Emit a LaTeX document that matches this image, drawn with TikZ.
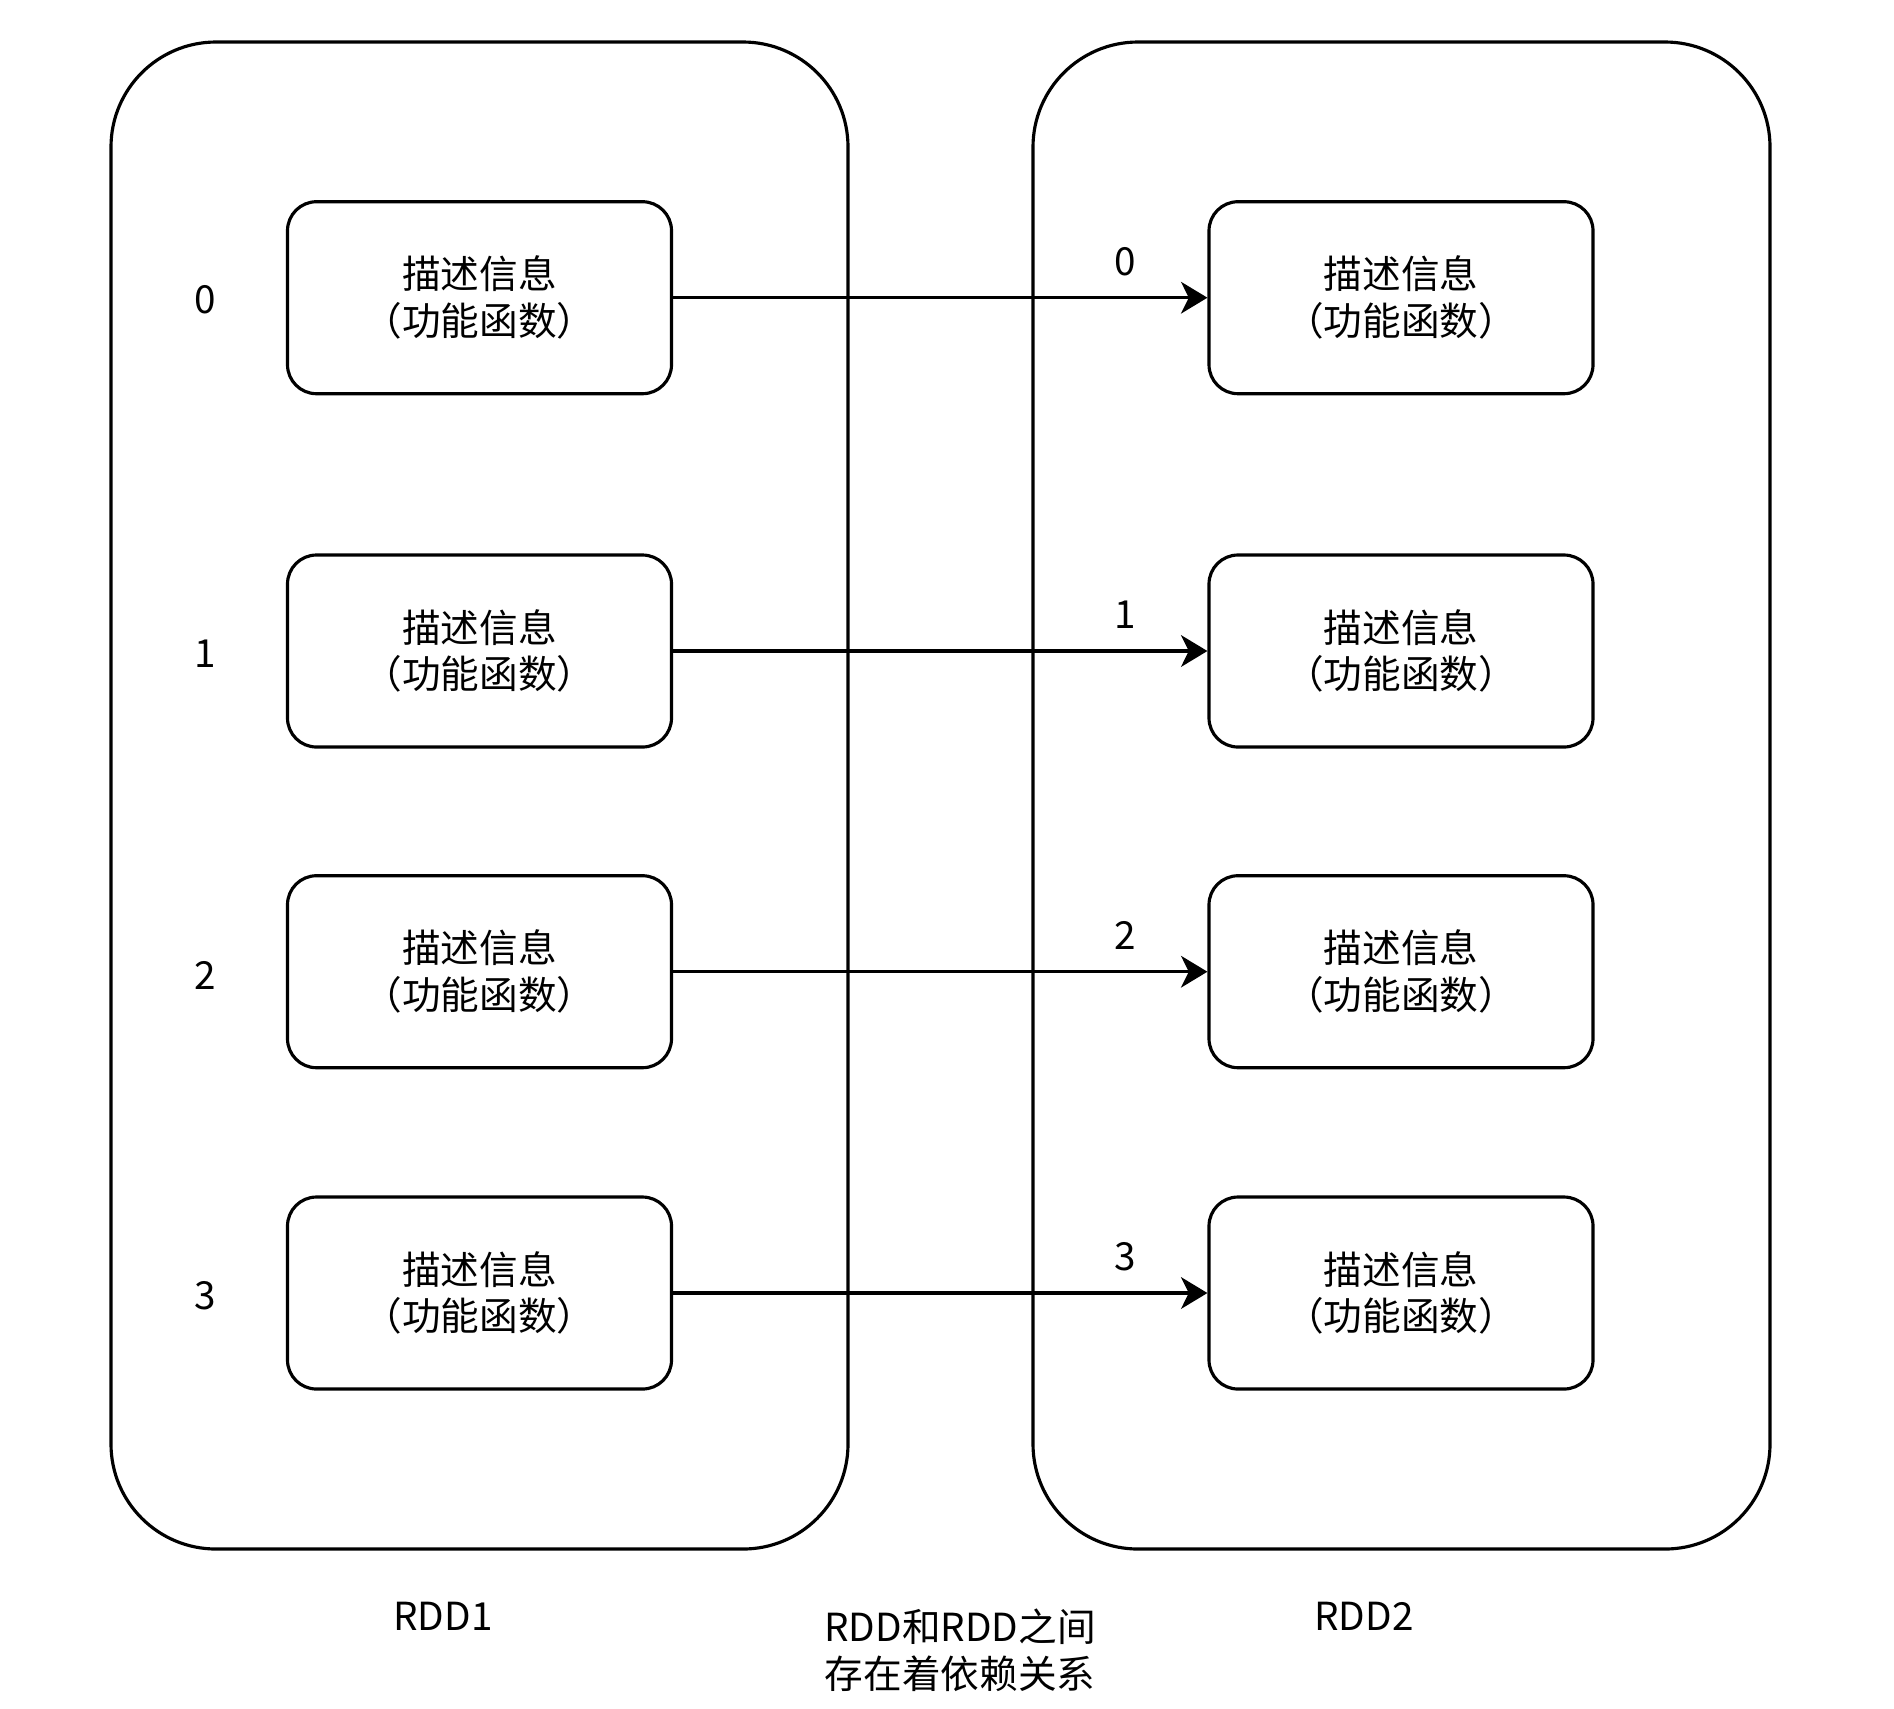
\documentclass[tikz,border=0pt]{standalone}
\usepackage{fontspec}
\setmainfont{Noto Sans CJK SC}
\usepackage{tikz}
\usetikzlibrary{arrows.meta}

\begin{document}
\begin{tikzpicture}[font=\fontsize{11}{13.3}\selectfont,
    rddbox/.style={draw, line width=0.9pt, rounded corners=1.05cm,
      minimum width=7.37cm, minimum height=15.07cm},
    partbox/.style={draw, line width=0.9pt, rounded corners=0.29cm, align=center,
      minimum width=3.84cm, minimum height=1.92cm},
    dep/.style={-{Stealth[length=7.5pt, width=9pt, inset=2.2pt]}, line width=0.9pt}]
  \useasboundingbox (0,0) rectangle (18.94,-17.08);
  % the two RDDs
  \node[rddbox] (rdd1) at (4.795,-7.955) {};
  \node[rddbox] (rdd2) at (14.015,-7.955) {};
  % partitions of RDD1
  \node[partbox] (a0) at (4.795,-2.977) {描述信息\\（功能函数）};
  \node[partbox] (a1) at (4.795,-6.51) {描述信息\\（功能函数）};
  \node[partbox] (a2) at (4.795,-9.717) {描述信息\\（功能函数）};
  \node[partbox] (a3) at (4.795,-12.93) {描述信息\\（功能函数）};
  % partitions of RDD2
  \node[partbox] (b0) at (14.01,-2.977) {描述信息\\（功能函数）};
  \node[partbox] (b1) at (14.01,-6.51) {描述信息\\（功能函数）};
  \node[partbox] (b2) at (14.01,-9.717) {描述信息\\（功能函数）};
  \node[partbox] (b3) at (14.01,-12.93) {描述信息\\（功能函数）};
  % partition numbers
  \node (n0) at (2.05,-3.0) {0};
  \node (n1) at (2.05,-6.54) {1};
  \node (n2) at (2.05,-9.75) {2};
  \node (n3) at (2.05,-12.96) {3};
  % one-to-one dependencies
  \draw[dep] (a0.east) -- node[pos=0.846, yshift=0.36cm] {0} (b0.west);
  \draw[dep] (a1.east) -- node[pos=0.846, yshift=0.36cm] {1} (b1.west);
  \draw[dep] (a2.east) -- node[pos=0.846, yshift=0.36cm] {2} (b2.west);
  \draw[dep] (a3.east) -- node[pos=0.846, yshift=0.36cm] {3} (b3.west);
  % captions
  \node (cap1) at (4.43,-16.16) {RDD1};
  \node (cap2) at (13.64,-16.16) {RDD2};
  \node[align=center] (note) at (9.6,-16.5) {RDD和RDD之间\\存在着依赖关系};
\end{tikzpicture}
\end{document}
